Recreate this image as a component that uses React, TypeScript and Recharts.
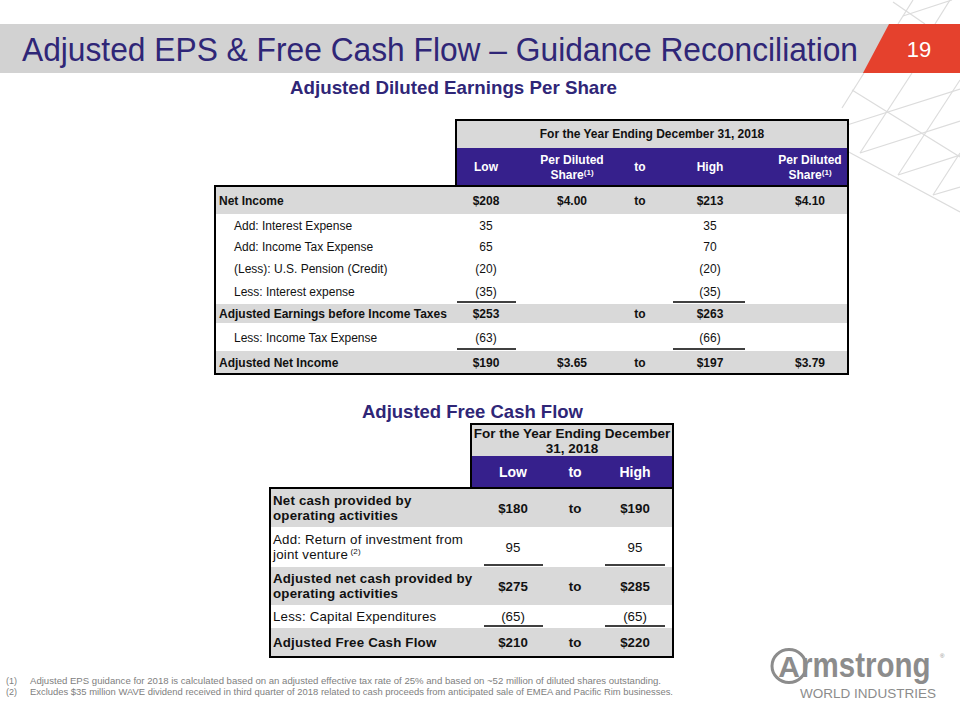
import { Surface, Layer, Rectangle, Polygon, Text } from 'recharts'

// slide text
const title = 'Adjusted EPS & Free Cash Flow – Guidance Reconciliation'
const pageNo = '19'
const epsTitle = 'Adjusted Diluted Earnings Per Share'
const fcfTitle = 'Adjusted Free Cash Flow'
const periodLabel = 'For the Year Ending December 31, 2018'

// Adjusted diluted EPS table
const epsRows = [
  'Net Income',
  'Add: Interest Expense',
  'Add: Income Tax Expense',
  '(Less): U.S. Pension (Credit)',
  'Less: Interest expense',
  'Adjusted Earnings before Income Taxes',
  'Less: Income Tax Expense',
  'Adjusted Net Income',
]
const epsLow = [208, 35, 65, -20, -35, 253, -63, 190]
const epsLowShare = [4.0, null, null, null, null, null, null, 3.65]
const epsHigh = [213, 35, 70, -20, -35, 263, -66, 197]
const epsHighShare = [4.1, null, null, null, null, null, null, 3.79]
const epsTotal = [true, false, false, false, false, true, false, true]
const epsSubtotalAbove = [5, 7]

// Adjusted free cash flow table
const fcfRows = [
  ['Net cash provided by', 'operating activities'],
  ['Add: Return of investment from', 'joint venture'],
  ['Adjusted net cash provided by', 'operating activities'],
  ['Less: Capital Expenditures'],
  ['Adjusted Free Cash Flow'],
]
const fcfLow = [180, 95, 275, -65, 210]
const fcfHigh = [190, 95, 285, -65, 220]
const fcfTotal = [true, false, true, false, true]
const fcfSubtotalAbove = [2, 4]

const footnotes = [
  'Adjusted EPS guidance for 2018 is calculated based on an adjusted effective tax rate of 25% and based on ~52 million of diluted shares outstanding.',
  'Excludes $35 million WAVE dividend received in third quarter of 2018 related to cash proceeds from anticipated sale of EMEA and Pacific Rim businesses.',
]

const FONT = '"Liberation Sans", Arial, sans-serif'
const PURPLE = '#36208C'
const INK = '#2F2677'
const GRAY = '#D9D9D9'
const LOGO = '#8C8C8C'

const fmt = (v: number | null, dollar: boolean) => {
  if (v == null) return ''
  const s = (dollar ? '$' : '') + Math.abs(v)
  return v < 0 ? `(${s})` : s
}
const fmtShare = (v: number | null) => (v == null ? '' : '$' + v.toFixed(2))

// background lattice (decoration)
const lattice = [
  [852, 90, 960, 157], [845, 150, 960, 212], [847, 125, 960, 89], [860, 153, 960, 121],
  [898, 175, 960, 155], [933, 195, 960, 187], [860, 153, 912, 73], [898, 175, 960, 80],
  [933, 195, 960, 153], [842, 108, 864, 73], [913, 0, 898, 24], [950, 0, 935, 24],
  [903, 16, 952, 0], [893, 2, 925, 24],
]

function Cell({ x, y, text, bold, anchor = 'middle', size = 12, fill = '#111' }: any) {
  return (
    <Text x={x} y={y} textAnchor={anchor} verticalAnchor="middle" fill={fill}
      style={{ fontFamily: FONT, fontSize: size, fontWeight: bold ? 700 : 400 }}>
      {text}
    </Text>
  )
}

function EpsTable() {
  const x0 = 215, x1 = 848, hx = 456, hTop = 120, pTop = 148, bTop = 186
  const tops = [186, 214, 235, 257, 279, 303, 323, 350, 374]
  const cols = [486, 572, 640, 710, 810]
  const heads = ['Low', '', 'to', 'High', '']
  return (
    <Layer>
      <Rectangle x={hx} y={hTop} width={x1 - hx} height={pTop - hTop} fill={GRAY} />
      <Rectangle x={hx} y={pTop} width={x1 - hx} height={bTop - pTop} fill={PURPLE} />
      {epsRows.map((_, i) =>
        epsTotal[i] ? (
          <Rectangle key={i} x={x0} y={tops[i] + 1} width={x1 - x0} height={tops[i + 1] - tops[i] - 1} fill={GRAY} />
        ) : null
      )}
      <Cell x={(hx + x1) / 2} y={134} text={periodLabel} bold />
      {heads.map((h, j) => (h ? <Cell key={j} x={cols[j]} y={167} text={h} bold fill="#fff" /> : null))}
      {[1, 4].map((j) => (
        <text key={j} x={cols[j]} y={164} textAnchor="middle" fill="#fff" fontFamily={FONT} fontSize={12} fontWeight={700}>
          Per Diluted
          <tspan x={cols[j]} dy={15}>Share</tspan>
          <tspan fontSize={8} dy={-4}>(1)</tspan>
        </text>
      ))}
      {epsRows.map((label, i) => {
        const cy = (tops[i] + tops[i + 1]) / 2 + 1
        const b = epsTotal[i]
        return (
          <Layer key={i}>
            <Cell x={b ? 219 : 234} y={cy} text={label} bold={b} anchor="start" />
            <Cell x={cols[0]} y={cy} text={fmt(epsLow[i], b)} bold={b} />
            <Cell x={cols[1]} y={cy} text={fmtShare(epsLowShare[i])} bold={b} />
            {b ? <Cell x={cols[2]} y={cy} text="to" bold /> : null}
            <Cell x={cols[3]} y={cy} text={fmt(epsHigh[i], b)} bold={b} />
            <Cell x={cols[4]} y={cy} text={fmtShare(epsHighShare[i])} bold={b} />
          </Layer>
        )
      })}
      {epsSubtotalAbove.map((i) => (
        <Layer key={i}>
          <line x1={457} x2={516} y1={tops[i] - 1} y2={tops[i] - 1} stroke="#000" strokeWidth={1.3} />
          <line x1={673} x2={745} y1={tops[i] - 1} y2={tops[i] - 1} stroke="#000" strokeWidth={1.3} />
        </Layer>
      ))}
      <Rectangle x={hx} y={hTop} width={x1 - hx} height={bTop - hTop} fill="none" stroke="#000" strokeWidth={2} />
      <Rectangle x={x0} y={bTop} width={x1 - x0} height={tops[tops.length - 1] - bTop} fill="none" stroke="#000" strokeWidth={2} />
    </Layer>
  )
}

function FcfTable() {
  const x0 = 270, x1 = 673, hx = 471, hTop = 424, pTop = 456, bTop = 488
  const tops = [488, 527, 566, 605, 627, 657]
  const cols = [513, 575, 635]
  return (
    <Layer>
      <Rectangle x={hx} y={hTop} width={x1 - hx} height={pTop - hTop} fill={GRAY} />
      <Rectangle x={hx} y={pTop} width={x1 - hx} height={bTop - pTop} fill={PURPLE} />
      {fcfRows.map((_, i) =>
        fcfTotal[i] ? (
          <Rectangle key={i} x={x0} y={tops[i] + 1} width={x1 - x0} height={tops[i + 1] - tops[i] - 1} fill={GRAY} />
        ) : null
      )}
      <text x={(hx + x1) / 2} y={438} textAnchor="middle" fill="#111" fontFamily={FONT} fontSize={13.5} fontWeight={700}>
        For the Year Ending December
        <tspan x={(hx + x1) / 2} dy={15}>31, 2018</tspan>
      </text>
      {['Low', 'to', 'High'].map((h, j) => (
        <Cell key={j} x={cols[j]} y={472} text={h} bold fill="#fff" size={14} />
      ))}
      {fcfRows.map((lines, i) => {
        const cy = (tops[i] + tops[i + 1]) / 2 + 0.5
        const b = fcfTotal[i]
        return (
          <Layer key={i}>
            {lines.map((ln, k) => (
              <text key={k} x={273} y={cy + (k - (lines.length - 1) / 2) * 15 + 4.8} fill="#111"
                fontFamily={FONT} fontSize={13.3} fontWeight={b ? 700 : 400} letterSpacing={0.2}>
                {ln}
                {i === 1 && k === 1 ? <tspan fontSize={8} dy={-5}> (2)</tspan> : null}
              </text>
            ))}
            <Cell x={cols[0]} y={cy} text={fmt(fcfLow[i], b)} bold={b} size={13.3} />
            {b ? <Cell x={cols[1]} y={cy} text="to" bold size={13.3} /> : null}
            <Cell x={cols[2]} y={cy} text={fmt(fcfHigh[i], b)} bold={b} size={13.3} />
          </Layer>
        )
      })}
      {fcfSubtotalAbove.map((i) => (
        <Layer key={i}>
          <line x1={484} x2={543} y1={tops[i] - 1} y2={tops[i] - 1} stroke="#000" strokeWidth={1.3} />
          <line x1={605} x2={665} y1={tops[i] - 1} y2={tops[i] - 1} stroke="#000" strokeWidth={1.3} />
        </Layer>
      ))}
      <Rectangle x={hx} y={hTop} width={x1 - hx} height={bTop - hTop} fill="none" stroke="#000" strokeWidth={2} />
      <Rectangle x={x0} y={bTop} width={x1 - x0} height={tops[tops.length - 1] - bTop} fill="none" stroke="#000" strokeWidth={2} />
    </Layer>
  )
}

export default function App() {
  return (
    <div style={{ width: 960, height: 720, overflow: 'hidden', background: '#fff' }}>
      <style>{'body{margin:0}'}</style>
      <Surface width={960} height={720} viewBox={{ x: 0, y: 0, width: 960, height: 720 }}>
        {lattice.map(([a, b, c, d], i) => (
          <line key={i} x1={a} y1={b} x2={c} y2={d} stroke="#DCDCDC" strokeWidth={1.2} />
        ))}
        <Rectangle x={0} y={24} width={890} height={49} fill="#D2D2D2" />
        <Polygon
          points={[{ x: 889, y: 24 }, { x: 960, y: 24 }, { x: 960, y: 73 }, { x: 863, y: 73 }]}
          fill="#E5412D"
        />
        <text x={22} y={61} fill={INK} fontFamily={FONT} fontSize={33} textLength={836} lengthAdjust="spacingAndGlyphs">
          {title}
        </text>
        <text x={919} y={57} textAnchor="middle" fill="#fff" fontFamily={FONT} fontSize={22}>
          {pageNo}
        </text>
        <text x={290} y={94} fill={INK} fontFamily={FONT} fontSize={18.5} fontWeight={700} textLength={327} lengthAdjust="spacingAndGlyphs">
          {epsTitle}
        </text>
        <EpsTable />
        <text x={362} y={418} fill={INK} fontFamily={FONT} fontSize={18.5} fontWeight={700} textLength={221} lengthAdjust="spacingAndGlyphs">
          {fcfTitle}
        </text>
        <FcfTable />
        {footnotes.map((f, i) => (
          <Layer key={i}>
            <text x={6} y={684 + i * 11} fill="#808080" fontFamily={FONT} fontSize={9}>{`(${i + 1})`}</text>
            <text x={30} y={684 + i * 11} fill="#808080" fontFamily={FONT} fontSize={9}
              textLength={i === 0 ? 631 : 643} lengthAdjust="spacingAndGlyphs">
              {f}
            </text>
          </Layer>
        ))}
        <ellipse cx={789} cy={666} rx={17} ry={16.5} fill="none" stroke={LOGO} strokeWidth={3} />
        <text x={789} y={677} textAnchor="middle" fill={LOGO} fontFamily={FONT} fontSize={30} fontWeight={700}>A</text>
        <text transform="translate(801 677) scale(0.82 1)" fill={LOGO} fontFamily={FONT} fontSize={36} fontWeight={700}>
          rmstrong
        </text>
        <text x={940} y={658} fill={LOGO} fontFamily={FONT} fontSize={6}>®</text>
        <text x={800} y={698} fill={LOGO} fontFamily={FONT} fontSize={13} textLength={136} lengthAdjust="spacingAndGlyphs">
          WORLD INDUSTRIES
        </text>
      </Surface>
    </div>
  )
}
